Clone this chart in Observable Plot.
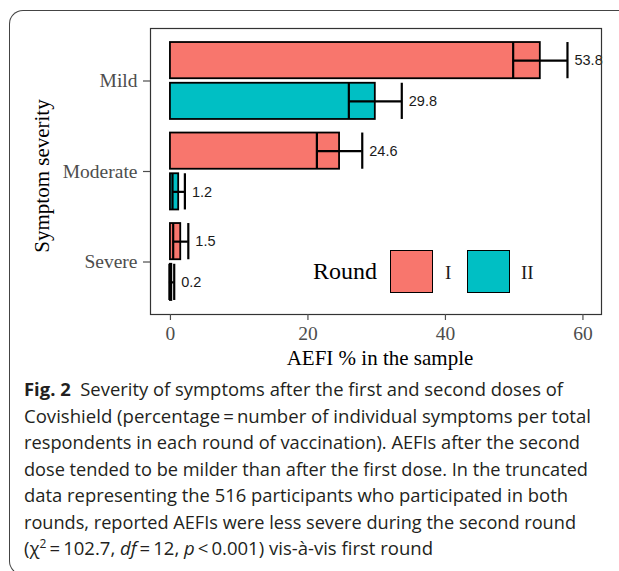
<!DOCTYPE html>
<html>
<head>
<meta charset="utf-8">
<script src="https://cdn.jsdelivr.net/npm/d3@7"></script>
<script src="https://cdn.jsdelivr.net/npm/@observablehq/plot@0.6"></script>
<style>
  html, body { margin:0; padding:0; background:#fff; }
  body { width:619px; height:571px; overflow:hidden; position:relative; }
  #box { position:absolute; left:9px; top:10px; width:700px; height:563px;
         border-top:1.5px solid #444; border-left:1.5px solid #444; border-bottom:1.5px solid #444;
         border-top-left-radius:14px; border-bottom-left-radius:14px; }
  #chart { position:absolute; left:0; top:0; }
  .ser { font-family:"Liberation Serif", "Times New Roman", serif; position:absolute; white-space:nowrap; }
  #legend .key { position:absolute; width:41px; height:41px; border:1.8px solid #000; }
  #caption { position:absolute; left:24px; top:376px; font-family:"Open Sans", sans-serif; font-size:18.5px;
             line-height:26.5px; color:#231f20; }
  #caption div { white-space:nowrap; }
  #caption span.ln { display:inline-block; transform-origin:0 50%; }
</style>
</head>
<body>
<div id="box"></div>
<div id="chart"></div>
<div id="ytitle" class="ser" style="font-size:21px; left:42px; top:176px; transform:translate(-50%,-50%) rotate(-90deg);">Symptom severity</div>
<div id="xtitle" class="ser" style="font-size:21px; left:380px; top:358px; transform:translate(-50%,-50%);">AEFI % in the sample</div>
<div id="legend">
  <div class="ser" style="font-size:24px; left:313px; top:258px;">Round</div>
  <div class="key" id="k1" style="left:390px; top:250px;"></div>
  <div class="ser" style="font-size:19px; left:445px; top:262px; color:#1a1a1a;">I</div>
  <div class="key" id="k2" style="left:467px; top:250px;"></div>
  <div class="ser" style="font-size:19px; left:521px; top:262px; color:#1a1a1a;">II</div>
</div>
<div id="caption">
  <div><span class="ln" data-w="539"><b style="font-weight:700;">Fig. 2</b>&nbsp; Severity of symptoms after the first and second doses of</span></div>
  <div><span class="ln" data-w="567">Covishield (percentage&#8201;=&#8201;number of individual symptoms per total</span></div>
  <div><span class="ln" data-w="556">respondents in each round of vaccination). AEFIs after the second</span></div>
  <div><span class="ln" data-w="564">dose tended to be milder than after the first dose. In the truncated</span></div>
  <div><span class="ln" data-w="544">data representing the 516 participants who participated in both</span></div>
  <div><span class="ln" data-w="552">rounds, reported AEFIs were less severe during the second round</span></div>
  <div><span class="ln" data-w="409">(χ<sup style="font-size:12px; line-height:0;">2</sup>&#8201;=&#8201;102.7, <i>df</i>&#8201;=&#8201;12, <i>p</i>&#8201;&lt;&#8201;0.001) vis-à-vis first round</span></div>
</div>
<script>
const severity = ["Mild", "Moderate", "Severe"];
const rounds = ["I", "II"];
const valuesI = [53.8, 24.6, 1.5];
const valuesII = [29.8, 1.2, 0.2];
const errorI = [3.95, 3.3, 1.1];
const errorII = [3.85, 0.9, 0.35];
const xTicks = [0, 20, 40, 60];
const colors = ["#F8766D", "#00BFC4"];

// ggplot-style dodge: dodge width 0.9, bar width 0.8 (in category units)
const DODGE = 0.225, HALF = 0.2;

document.getElementById("k1").style.background = colors[0];
document.getElementById("k2").style.background = colors[1];

// fit caption lines to the reference's line widths
document.querySelectorAll("#caption span.ln").forEach(el => {
  const w = el.getBoundingClientRect().width;
  const target = +el.dataset.w;
  if (w > 0) el.style.transform = `scaleX(${target / w})`;
});

const data = [];
severity.forEach((s, i) => {
  data.push({severity: s, pos: i + 1 - DODGE, round: "I", value: valuesI[i], err: errorI[i]});
  data.push({severity: s, pos: i + 1 + DODGE, round: "II", value: valuesII[i], err: errorII[i]});
});

const chart = Plot.plot({
  width: 619,
  height: 375,
  marginTop: 28,
  marginBottom: 61,
  marginLeft: 150,
  marginRight: 18,
  style: {fontFamily: "Liberation Serif", background: "transparent", overflow: "visible"},
  x: {domain: [-2.9, 62.7], axis: null},
  y: {domain: [0.42, 3.58], reverse: true, axis: null},
  color: {domain: rounds, range: colors},
  marks: [
    Plot.rect(data, {x1: 0, x2: "value", y1: d => d.pos - HALF, y2: d => d.pos + HALF, fill: "round", stroke: "#000", strokeWidth: 1.8}),
    Plot.ruleY(data, {y: "pos", x1: d => d.value - d.err, x2: d => d.value + d.err, stroke: "#000", strokeWidth: 2.2}),
    Plot.ruleX(data, {x: d => d.value - d.err, y1: d => d.pos - HALF, y2: d => d.pos + HALF, stroke: "#000", strokeWidth: 2.2}),
    Plot.ruleX(data, {x: d => d.value + d.err, y1: d => d.pos - HALF, y2: d => d.pos + HALF, stroke: "#000", strokeWidth: 2.2}),
    Plot.text(data, {y: "pos", x: d => d.value + d.err, text: d => d.value.toFixed(1),
      textAnchor: "start", dx: 7, fontFamily: "Liberation Sans", fontSize: 14.5, fill: "#1a1a1a"}),
    Plot.frame({stroke: "#333", strokeWidth: 1.2}),
    Plot.axisX({ticks: xTicks, tickSize: 6, tickPadding: 6, fontSize: 19.5, color: "#4D4D4D", label: null, strokeWidth: 1.2}),
    Plot.axisY({ticks: [1, 2, 3], tickFormat: d => severity[d - 1], tickSize: 7, tickPadding: 6, fontSize: 19.5, color: "#4D4D4D", label: null, strokeWidth: 1.2})
  ]
});
document.getElementById("chart").appendChild(chart);
</script>
</body>
</html>
